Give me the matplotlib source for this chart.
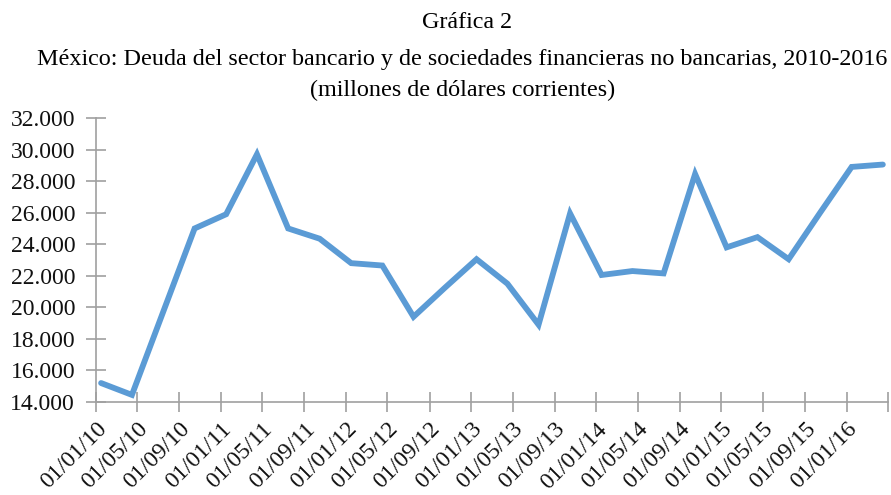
import datetime as dt
import matplotlib
matplotlib.use("Agg")
import matplotlib.pyplot as plt
from matplotlib.ticker import FuncFormatter

# quarterly data, millones de dolares
fechas = ["2010-01", "2010-04", "2010-07", "2010-10",
          "2011-01", "2011-04", "2011-07", "2011-10",
          "2012-01", "2012-04", "2012-07", "2012-10",
          "2013-01", "2013-04", "2013-07", "2013-10",
          "2014-01", "2014-04", "2014-07", "2014-10",
          "2015-01", "2015-04", "2015-07", "2015-10",
          "2016-01", "2016-04"]
deuda = [15200, 14450, 19700, 25000,
         25900, 29700, 25000, 24350,
         22800, 22650, 19400, 21250,
         23050, 21500, 18900, 25950,
         22050, 22300, 22150, 28450,
         23800, 24450, 23050, 26000,
         28900, 29050]
titulo = ["Gráfica 2",
          "México: Deuda del sector bancario y de sociedades financieras no bancarias, 2010-2016",
          "(millones de dólares corrientes)"]

plt.rcParams['font.family'] = ['Liberation Serif', 'DejaVu Serif']

# Excel style: point sits in the middle of its month
x = [dt.datetime.strptime(f, "%Y-%m") + dt.timedelta(days=15) for f in fechas]

fig = plt.figure(figsize=(8.91, 4.95), dpi=100)
ax = fig.add_axes([0.1077, 0.1879, 0.8889, 0.5737])

ax.plot(x, deuda, color='#5B9BD5', lw=4.2, solid_joinstyle='miter', solid_capstyle='round')

ax.set_ylim(14000, 32000)
ax.set_yticks(range(14000, 32001, 2000))
ax.yaxis.set_major_formatter(FuncFormatter(lambda v, p: "{:,.0f}".format(v).replace(",", ".")))

ticks = [dt.datetime(2010 + m // 12, m % 12 + 1, 1) for m in range(0, 77, 4)]
ax.set_xlim(ticks[0], ticks[-1])
ax.set_xticks(ticks)
ax.set_xticklabels([t.strftime("%d/%m/%y") for t in ticks[:-1]] + [""],
                   rotation=45, ha='right', rotation_mode='anchor')

for s in ['top', 'right']:
	ax.spines[s].set_visible(False)
for s in ['left', 'bottom']:
	ax.spines[s].set_color('#A0A0A0')
	ax.spines[s].set_linewidth(1.2)
ax.tick_params(axis='both', direction='inout', length=14, width=1.2, color='#A0A0A0',
               labelsize=17, labelcolor='#111111')
ax.tick_params(axis='y', pad=8)
ax.tick_params(axis='x', pad=5)

fig.text(0.524, 0.955, titulo[0], ha='center', va='center', fontsize=17.4)
fig.text(0.519, 0.880, titulo[1], ha='center', va='center', fontsize=17.4)
fig.text(0.519, 0.818, titulo[2], ha='center', va='center', fontsize=17.4)

fig.savefig("out.png", dpi=100)
